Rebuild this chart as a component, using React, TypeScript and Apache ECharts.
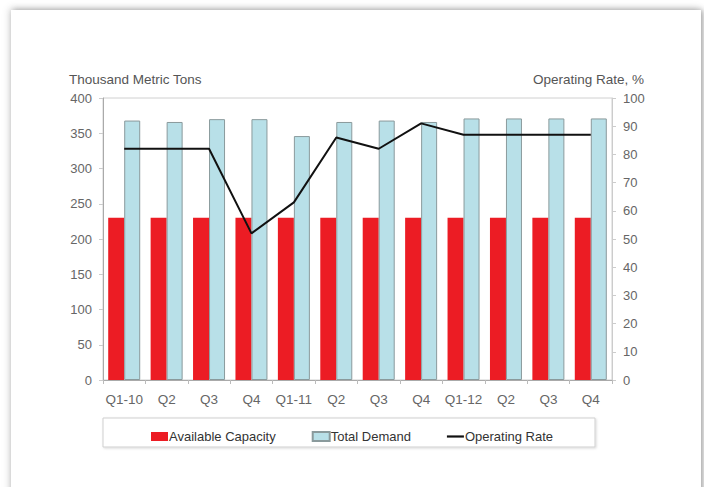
import React, { useEffect, useRef } from "react";
import * as echarts from "echarts";

const categories = ["Q1-10", "Q2", "Q3", "Q4", "Q1-11", "Q2", "Q3", "Q4", "Q1-12", "Q2", "Q3", "Q4"];
const availableCapacity = [230, 230, 230, 230, 230, 230, 230, 230, 230, 230, 230, 230];
const totalDemand = [368, 366, 370, 370, 346, 366, 368, 366, 371, 371, 371, 371];
const operatingRate = [82, 82, 82, 52, 63, 86, 82, 91, 87, 87, 87, 87];
const leftTicks = { min: 0, max: 400, interval: 50 };
const rightTicks = { min: 0, max: 100, interval: 10 };

const FONT = "'Liberation Sans', Arial, sans-serif";

export default function App() {
  const ref = useRef<HTMLDivElement>(null);
  useEffect(() => {
    if (!ref.current) return;
    const chart = echarts.init(ref.current, null, { renderer: "svg" });
    const axisLabel = { color: "#666", fontSize: 13, fontFamily: FONT };
    chart.setOption({
      animation: false,
      textStyle: { fontFamily: FONT },
      grid: { left: 103, right: 92, top: 98, bottom: 107, show: true, borderColor: "#d0d0d0", borderWidth: 1 },
      graphic: [
        { type: "text", left: 69, top: 72, style: { text: "Thousand Metric Tons", fill: "#555", fontSize: 13.5, fontFamily: FONT } },
        { type: "text", right: 60, top: 72, style: { text: "Operating Rate, %", fill: "#555", fontSize: 13.5, fontFamily: FONT } },
        { type: "rect", shape: { x: 103, y: 418, width: 492, height: 29 }, style: { fill: "#fff", stroke: "#cfcfcf", lineWidth: 1, shadowBlur: 2, shadowColor: "rgba(0,0,0,0.15)", shadowOffsetX: 1, shadowOffsetY: 1 }, z: -1 },
      ],
      legend: {
        left: 146,
        top: 425,
        itemGap: 36,
        itemWidth: 17,
        itemHeight: 9,
        textStyle: { color: "#333", fontSize: 13, fontFamily: FONT, padding: [0, 0, 0, -4] },
        data: [
          { name: "Available Capacity", icon: "rect", itemStyle: { borderWidth: 0 } },
          { name: "Total Demand", icon: "rect" },
          { name: "Operating Rate", icon: "path://M0,0H17V2.2H0Z" },
        ],
      },
      xAxis: {
        type: "category",
        data: categories,
        axisLine: { lineStyle: { color: "#aaa" } },
        axisTick: { show: true, length: 4, lineStyle: { color: "#bbb" } },
        axisLabel: { ...axisLabel, fontSize: 13.5, margin: 12, interval: 0 },
      },
      yAxis: [
        {
          type: "value",
          ...leftTicks,
          axisLine: { show: true, lineStyle: { color: "#aaa" } },
          axisTick: { show: true, length: 4, lineStyle: { color: "#ccc" } },
          splitLine: { show: false },
          axisLabel: { ...axisLabel, margin: 11 },
        },
        {
          type: "value",
          ...rightTicks,
          position: "right",
          axisLine: { show: true, lineStyle: { color: "#ccc" } },
          axisTick: { show: true, length: 4, lineStyle: { color: "#ccc" } },
          splitLine: { show: false },
          axisLabel: { ...axisLabel, margin: 11 },
        },
      ],
      series: [
        {
          name: "Available Capacity",
          type: "bar",
          data: availableCapacity,
          barWidth: 16,
          barGap: "0%",
          itemStyle: { color: "#ec1c24", borderColor: "#b04040", borderWidth: 0 },
        },
        {
          name: "Total Demand",
          type: "bar",
          data: totalDemand,
          barWidth: 16,
          barGap: "0%",
          itemStyle: { color: "#b8e0e8", borderColor: "#8a9a9c", borderWidth: 1 },
        },
        {
          name: "Operating Rate",
          type: "line",
          yAxisIndex: 1,
          data: operatingRate,
          symbol: "none",
          lineStyle: { color: "#111", width: 2 },
          itemStyle: { color: "#111" },
        },
      ],
    });
    return () => chart.dispose();
  }, []);
  return (
    <div style={{ position: "fixed", left: 0, top: 0, width: 704, height: 487, background: "#fff", overflow: "hidden" }}>
      <div
        style={{
          position: "absolute",
          left: 11,
          top: 10,
          width: 690,
          height: 520,
          background: "#fff",
          boxShadow: "2px 0px 6px rgba(0,0,0,0.35), -2px -2px 8px rgba(0,0,0,0.12)",
        }}
      />
      <div ref={ref} style={{ position: "absolute", left: 0, top: 0, width: 704, height: 487 }} />
    </div>
  );
}
